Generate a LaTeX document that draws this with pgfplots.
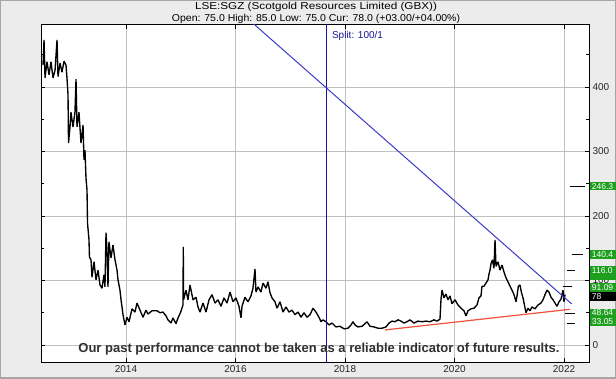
\documentclass[border=0pt]{standalone}
\usepackage{fontspec}
\setmainfont{Liberation Sans}
\usepackage{pgfplots}
\pgfplotsset{compat=1.18}
\definecolor{bg}{RGB}{236,236,236}
\definecolor{gridc}{RGB}{192,192,192}
\definecolor{trendblue}{RGB}{60,60,200}
\definecolor{splitblue}{RGB}{20,20,150}
\definecolor{trendred}{RGB}{240,80,60}
\definecolor{lblgreen}{RGB}{30,160,30}
\definecolor{disc}{RGB}{48,48,48}

\begin{document}
\begin{tikzpicture}[x=1pt,y=1pt]
\useasboundingbox (0,0) rectangle (616,378);
\clip (0,0) rectangle (616,378);
\fill[bg] (0,0) rectangle (616,378);
\draw[gray!70, line width=1.5pt] (0,0) rectangle (616,378);
\begin{axis}[at={(41pt,16pt)}, anchor=south west, scale only axis,
  width=548pt, height=337pt,
  xmin=2012.4475, xmax=2022.4566, ymin=-26.4, ymax=496.1,
  axis background/.style={fill=white},
  xtick={2014,2016,2018,2020,2022},
  xticklabels={2014,2016,2018,2020,2022},
  ytick={0,100,200,300,400},
  minor ytick={50,150,250,350,450},
  yticklabel pos=right,
  xmajorgrids, ymajorgrids,
  grid style={gridc, line width=0.8pt},
  tick style={black, line width=0.6pt},
  major tick length=4pt, minor tick length=3pt,
  axis line style={black, line width=1pt},
  ticklabel style={font=\fontsize{10}{12}\selectfont, text=black!85},
  /pgf/number format/assume math mode=true,
  clip mode=individual,
]
\addplot[black, line width=1.35pt, line join=bevel] coordinates {
(2012.484,434) (2012.503,473) (2012.521,414) (2012.557,439) (2012.594,419)
(2012.630,439) (2012.667,414) (2012.704,426) (2012.740,473) (2012.758,416)
(2012.795,437) (2012.831,423) (2012.868,440) (2012.904,434) (2012.922,414)
(2012.941,388) (2012.950,313) (2012.977,338) (2012.995,361) (2013.032,338)
(2013.068,361) (2013.087,412) (2013.105,338) (2013.141,361) (2013.178,313)
(2013.215,341) (2013.233,287) (2013.251,302) (2013.269,259) (2013.288,240)
(2013.297,189) (2013.324,163) (2013.333,136) (2013.361,132) (2013.379,105)
(2013.416,129) (2013.452,101) (2013.489,116) (2013.525,93) (2013.562,88)
(2013.598,109) (2013.616,90) (2013.635,174) (2013.653,147) (2013.671,90)
(2013.689,160) (2013.726,135) (2013.762,155) (2013.799,132) (2013.836,116)
(2013.854,101) (2013.890,85) (2013.909,70) (2013.927,59) (2013.945,47)
(2013.982,31) (2014.018,43) (2014.055,36) (2014.110,56) (2014.164,51)
(2014.201,65) (2014.256,54) (2014.311,43) (2014.365,54) (2014.402,48)
(2014.475,53) (2014.566,53) (2014.621,50) (2014.676,51) (2014.731,45)
(2014.767,39) (2014.822,34) (2014.859,42) (2014.913,33) (2014.950,42)
(2014.995,50) (2015.041,62) (2015.046,152) (2015.052,70) (2015.096,85)
(2015.132,70) (2015.169,93) (2015.224,70) (2015.279,74) (2015.315,59)
(2015.352,51) (2015.406,65) (2015.461,51) (2015.516,70) (2015.571,78)
(2015.626,65) (2015.680,70) (2015.735,60) (2015.790,73) (2015.845,65)
(2015.900,82) (2015.954,67) (2016.009,73) (2016.064,60) (2016.100,42)
(2016.119,60) (2016.173,74) (2016.228,67) (2016.283,76) (2016.319,88)
(2016.356,118) (2016.374,82) (2016.411,90) (2016.465,82) (2016.502,96)
(2016.557,88) (2016.593,98) (2016.630,81) (2016.667,73) (2016.721,67)
(2016.758,57) (2016.813,67) (2016.868,51) (2016.922,59) (2016.977,51)
(2017.032,54) (2017.087,47) (2017.142,51) (2017.196,43) (2017.251,50)
(2017.306,43) (2017.361,47) (2017.416,57) (2017.470,51) (2017.525,43)
(2017.562,36) (2017.598,39) (2017.653,36) (2017.708,31) (2017.763,34)
(2017.835,28) (2017.908,29) (2017.982,25) (2018.055,26) (2018.110,31)
(2018.146,36) (2018.183,31) (2018.237,28) (2018.311,29) (2018.365,33)
(2018.402,36) (2018.457,29) (2018.530,28) (2018.603,26) (2018.676,26)
(2018.749,28) (2018.804,34) (2018.858,37) (2018.913,36) (2018.968,39)
(2019.023,37) (2019.077,34) (2019.132,36) (2019.187,39) (2019.260,34)
(2019.333,37) (2019.406,36) (2019.479,37) (2019.552,36) (2019.625,39)
(2019.680,37) (2019.735,40) (2019.753,70) (2019.772,85) (2019.808,73)
(2019.845,79) (2019.881,70) (2019.918,76) (2019.954,64) (2020.009,70)
(2020.064,62) (2020.119,57) (2020.173,53) (2020.210,45) (2020.247,53)
(2020.301,56) (2020.356,57) (2020.411,62) (2020.447,73) (2020.484,76)
(2020.502,91) (2020.539,91) (2020.575,96) (2020.612,101) (2020.630,110)
(2020.648,116) (2020.667,126) (2020.694,132) (2020.721,119) (2020.740,163)
(2020.758,122) (2020.795,129) (2020.831,116) (2020.868,124) (2020.904,113)
(2020.941,104) (2020.977,98) (2021.014,91) (2021.050,85) (2021.087,78)
(2021.123,67) (2021.142,76) (2021.166,91) (2021.196,93) (2021.224,81)
(2021.251,73) (2021.306,50) (2021.342,57) (2021.379,53) (2021.415,59)
(2021.470,56) (2021.525,62) (2021.580,65) (2021.616,70) (2021.653,78)
(2021.689,85) (2021.726,82) (2021.763,74) (2021.799,70) (2021.836,65)
(2021.872,60) (2021.909,67) (2021.945,71) (2021.982,85) (2022.000,67)
(2022.018,78)
};
% split line
\addplot[splitblue, line width=1pt] coordinates {(2017.653,-30) (2017.653,500)};
% trend lines
\addplot[trendblue, line width=1pt] coordinates {(2016.30,500.2) (2022.141,63.6)};
\addplot[trendred, line width=1.2pt] coordinates {(2018.73,23.3) (2022.11,55.3)};
% target dashes
\addplot[black, line width=1pt] coordinates {(2022.109,246.3) (2022.383,246.3)};
\addplot[black, line width=1pt] coordinates {(2022.146,140.4) (2022.347,140.4)};
\addplot[black, line width=1pt] coordinates {(2022.055,116.0) (2022.201,116.0)};
\addplot[black, line width=1pt] coordinates {(2021.982,91.09) (2022.146,91.09)};
\addplot[black, line width=1pt] coordinates {(2022.018,48.64) (2022.201,48.64)};
\addplot[black, line width=1pt] coordinates {(2022.055,33.05) (2022.201,33.05)};
% anchor points for the right labels
\coordinate (L1) at (axis cs:2022.47,246.3);
\coordinate (L2) at (axis cs:2022.47,140.4);
\coordinate (L3f) at (axis cs:2022.47,110.5);
\coordinate (L3) at (axis cs:2022.47,115.2);
\coordinate (L4) at (axis cs:2022.47,89.4);
\coordinate (L5) at (axis cs:2022.47,74.9);
\coordinate (L6) at (axis cs:2022.47,49.5);
\coordinate (L7) at (axis cs:2022.47,36.3);
% split label
\node[anchor=west, text=splitblue, font=\fontsize{10}{12}\selectfont, inner sep=0pt] at (axis cs:2017.76,479) {Split: 100/1};
% disclaimer
\node[text=disc, font=\fontsize{13}{15}\bfseries, inner sep=0pt] at (axis cs:2017.525,-6.2) {Our past performance cannot be taken as a reliable indicator of future results.};
\end{axis}
\tikzset{lbl/.style={anchor=west, fill=lblgreen, text=white, inner xsep=2pt, inner ysep=0pt,
  minimum height=8.5pt, text width=36pt, align=left, font=\fontsize{8.5}{8.5}\selectfont}}
\node[lbl] at (L1) {246.3};
\node[lbl] at (L2) {140.4};
\node[lbl, minimum height=13pt] at (L3f) {};
\node[lbl] at (L3) {116.0};
\node[lbl] at (L4) {91.09};
\node[lbl, fill=black] at (L5) {78};
\node[lbl] at (L6) {48.64};
\node[lbl] at (L7) {33.05};
\node[font=\fontsize{10}{12}\selectfont, xscale=1.17, inner sep=0pt] at (316,371) {LSE:SGZ (Scotgold Resources Limited (GBX))};
\node[font=\fontsize{10}{12}\selectfont, xscale=1.05, inner sep=0pt] at (316,359.5) {Open: 75.0 High: 85.0 Low: 75.0 Cur: 78.0 (+03.00/+04.00\%)};
\end{tikzpicture}
\end{document}
